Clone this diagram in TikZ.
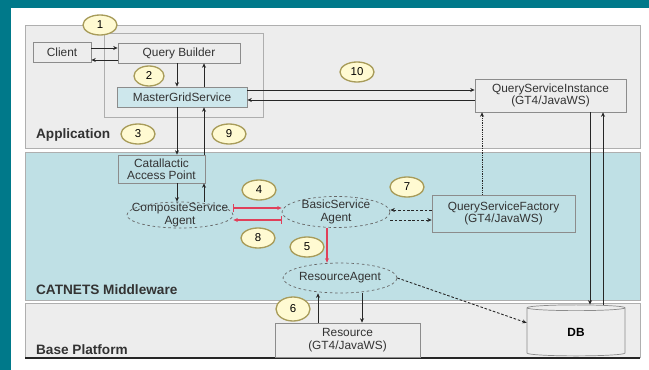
\documentclass[tikz,border=0pt]{standalone}
\usepackage{fontspec}
\setmainfont{Liberation Sans}
\usetikzlibrary{arrows.meta, positioning, shapes.geometric, calc}
\definecolor{cteal}{HTML}{00798A}
\definecolor{cgreyfill}{HTML}{EDEDED}
\definecolor{cmid}{HTML}{BFE0E5}
\definecolor{cedge}{HTML}{8C8C8C}
\definecolor{cmgs}{HTML}{CDE7EC}
\definecolor{cnum}{HTML}{FFFAD2}
\definecolor{cnumedge}{HTML}{A89C5A}
\definecolor{cred}{HTML}{E0405A}
\tikzset{
  every picture/.style={font=\fontsize{13.5}{14}\selectfont},
  box/.style={draw=cedge, fill=#1, line width=0.8pt, align=center, inner sep=1pt, text=black!80},
  box/.default=cgreyfill,
  line/.style={-{Stealth[length=5pt, width=4.5pt]}, line width=1pt, draw=black!85},
}

\begin{document}
\begin{tikzpicture}[x=0.04cm, y=-0.04cm,
  agent/.style={ellipse, draw=black!60, dashed, fill=cmid, line width=0.8pt, inner sep=0pt},
  agtxt/.style={align=center, text=black!80, inner sep=0pt},
  num/.style={ellipse, draw=cnumedge, fill=cnum, line width=1.5pt, minimum width=1.36cm, minimum height=0.8cm, inner sep=0pt, font=\fontsize{13}{13}\selectfont},
  layerlbl/.style={font=\fontsize{15.5}{16}\selectfont\bfseries, anchor=west, text=black!80},
  redline/.style={line, draw=cred, line width=1.2pt}]
  \useasboundingbox (0,0) rectangle (649,370);
  % frame
  \fill[white] (0,0) rectangle (649,370);
  \fill[cteal] (0,0) rectangle (649,8);
  \fill[cteal] (0,0) rectangle (11,370);
  % layers
  \filldraw[fill=cgreyfill, draw=cedge!70] (25,25) rectangle (640,148);
  \filldraw[fill=cmid, draw=cedge!70] (25,152) rectangle (640,300);
  \filldraw[fill=cgreyfill, draw=cedge!70] (25,303) rectangle (640,357);
  \draw[line width=2.5pt, black!85] (25,358) -- (640,358);
  \draw[cedge!70, line width=0.8pt] (104,33) rectangle (263,117);
  \node[layerlbl] (lapp) at (33,135) {Application};
  \node[layerlbl] (lmid) at (33,290) {CATNETS Middleware};
  \node[layerlbl] (lbase) at (33,350) {Base Platform};
  % application
  \node[box, minimum width=2.32cm, minimum height=0.8cm] (client) at (62,52) {Client};
  \node[box, minimum width=4.88cm, minimum height=0.8cm] (qb) at (179,53) {Query Builder};
  \node[box=cmgs, minimum width=5.2cm, minimum height=0.8cm] (mgs) at (182,97) {MasterGridService};
  \node[box, minimum width=6.04cm, minimum height=1.32cm] (qsi) at (550.5,95.5) {QueryServiceInstance\\(GT4/JavaWS)};
  % middleware
  \node[box=cmid, minimum width=3.48cm, minimum height=1.12cm] (cap) at (161.5,169) {Catallactic\\Access Point};
  \node[box=cmid, minimum width=5.72cm, minimum height=1.48cm] (qsf) at (503.5,213.5) {QueryServiceFactory\\(GT4/JavaWS)};
  \node[agent, minimum width=4.24cm, minimum height=1.04cm, label={[agtxt]center:{CompositeService\\Agent}}] (csa) at (180,215) {};
  \node[agent, minimum width=4.32cm, minimum height=1.24cm, label={[agtxt]center:{BasicService\\Agent}}] (bsa) at (336,212) {};
  \node[agent, minimum width=4.56cm, minimum height=1.2cm, label={[agtxt]center:{ResourceAgent}}] (ra) at (340,278) {};
  % base platform
  \node[box, minimum width=5.8cm, minimum height=1.36cm] (res) at (347.5,340) {Resource\\(GT4/JavaWS)};
  \node[cylinder, shape border rotate=90, aspect=0.25, draw=cedge, fill=cgreyfill, line width=0.8pt,
    minimum width=3.92cm, minimum height=2.04cm, font=\fontsize{13.5}{14}\selectfont\bfseries] (db) at (576,332.5) {DB};
  % connectors
  \draw[line] (client.east |- 0,48) -- (qb.west |- 0,48);
  \draw[line] (qb.west |- 0,60) -- (client.east |- 0,60);
  \draw[line] (qb.south -| 177,0) -- (mgs.north -| 177,0);
  \draw[line] (mgs.north -| 204,0) -- (qb.south -| 204,0);
  \draw[line] (mgs.east |- 0,90) -- (qsi.west |- 0,90);
  \draw[line] (qsi.west |- 0,100) -- (mgs.east |- 0,100);
  \draw[line] (mgs.south -| 177,0) -- (cap.north -| 177,0);
  \draw[line] (cap.north -| 204,0) -- (mgs.south -| 204,0);
  \draw[line] (cap.south -| 177,0) -- (csa.north -| 177,0);
  \draw[line] (csa.north -| 204,0) -- (cap.south -| 204,0);
  \draw[redline, {Bar[width=9pt]}-{Stealth[length=5pt, width=4.5pt]}] (csa.east |- 0,208) -- (bsa.west |- 0,208);
  \draw[redline, {Bar[width=9pt]}-{Stealth[length=5pt, width=4.5pt]}] (bsa.west |- 0,220) -- (csa.east |- 0,220);
  \draw[redline] (bsa.south -| 327,0) -- (ra.north -| 327,0);
  \draw[line, densely dashed] (qsf.west |- 0,210) -- (bsa.east |- 0,210);
  \draw[line, densely dashed] (bsa.east |- 0,220) -- (qsf.west |- 0,220);
  \draw[line, densely dotted] (qsf.north -| 482,0) -- (qsi.south -| 482,0);
  \draw[line] (qsi.south -| 590,0) -- (db.north -| 590,0);
  \draw[line] (db.north -| 603,0) -- (qsi.south -| 603,0);
  \draw[line, densely dashed] (ra.east) -- ([yshift=11pt]db.west);
  \draw[line] (ra.south -| 362,0) -- (res.north -| 362,0);
  \draw[line] (res.north -| 318,0) -- (ra.south -| 318,0);
  % step numbers
  \node[num] (n1) at (100,25) {1};
  \node[num, minimum width=1.2cm] (n2) at (149,76) {2};
  \node[num] (n3) at (138,134) {3};
  \node[num] (n9) at (229,134) {9};
  \node[num] (n10) at (357,72) {10};
  \node[num] (n4) at (259,190) {4};
  \node[num] (n8) at (258,238) {8};
  \node[num] (n5) at (307,247) {5};
  \node[num] (n7) at (407,187) {7};
  \node[num, minimum height=0.96cm] (n6) at (293,309) {6};
\end{tikzpicture}
\end{document}
